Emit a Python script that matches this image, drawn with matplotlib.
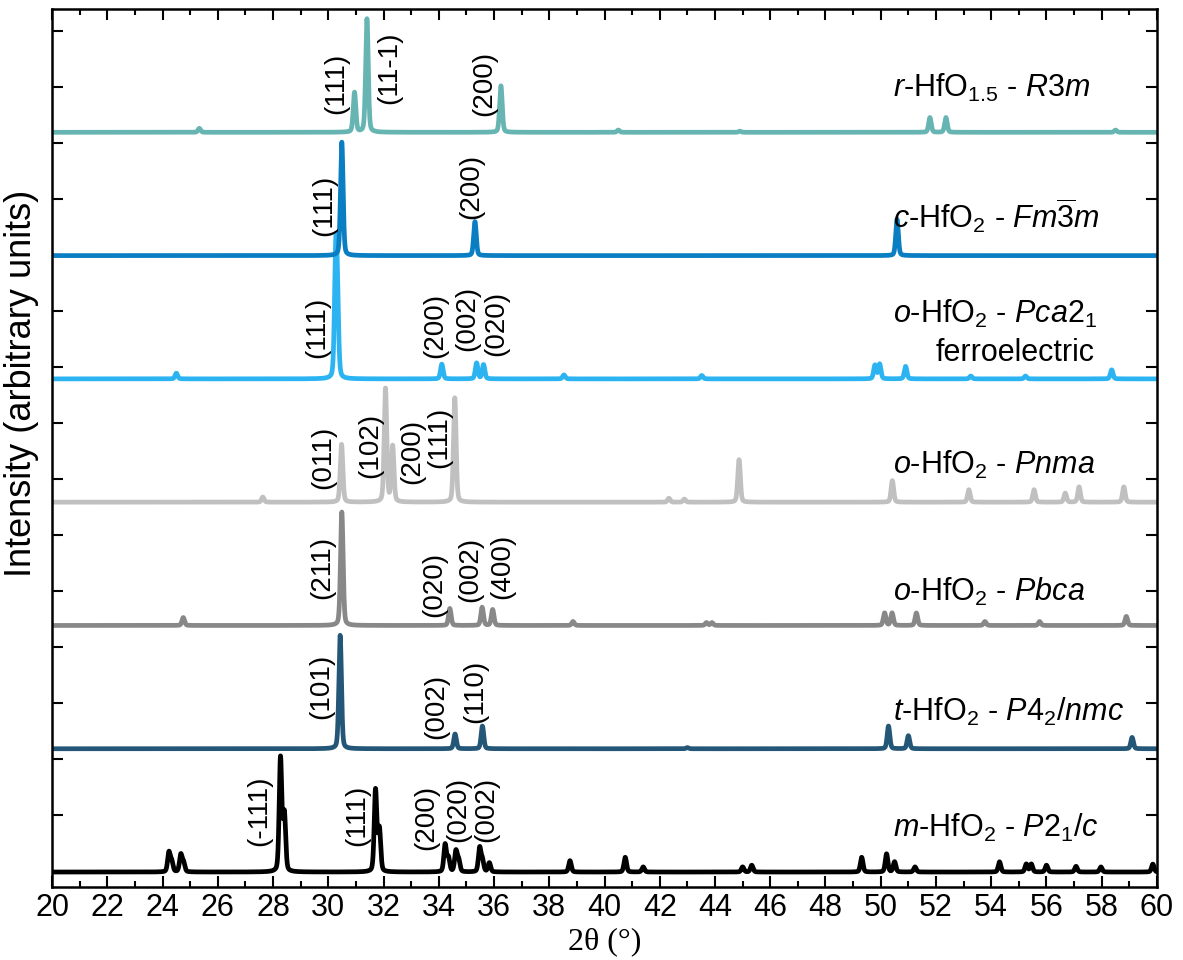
import numpy as np
import matplotlib
matplotlib.use('Agg')
import matplotlib.pyplot as plt
from matplotlib.ticker import MultipleLocator

plt.rcParams['font.family'] = ['Liberation Sans', 'DejaVu Sans']
plt.rcParams['mathtext.fontset'] = 'custom'
plt.rcParams['mathtext.rm'] = 'Liberation Sans'
plt.rcParams['mathtext.it'] = 'Liberation Sans:italic'
plt.rcParams['mathtext.bf'] = 'Liberation Sans:bold'

########## reflection lists (2theta in deg, relative intensity) ##########
m_pos = [24.23, 24.33, 24.66, 24.76, 28.27, 28.41, 31.71, 31.85, 34.23, 34.35, 34.62, 34.72,
         35.48, 35.58, 35.83, 38.75, 40.75, 41.40, 45.00, 45.33, 49.31, 50.21, 50.50,
         51.24, 54.30, 55.27, 55.45, 56.00, 57.07, 57.97, 59.85]
m_int = [17, 9, 15, 8, 100, 50, 72, 37, 24, 12, 18, 10,
         21, 10, 8, 10, 13, 4.5, 4.5, 6, 13, 16, 9,
         4.5, 9, 7, 7, 6, 5, 4.5, 7]

t_pos = [30.43, 34.59, 35.58, 43.0, 50.28, 51.0, 59.10]
t_int = [100, 13, 20, 1, 20, 11.5, 10]

pbca_pos = [24.75, 30.49, 34.40, 35.57, 35.95, 38.86, 43.69, 43.89, 50.14, 50.41, 51.29,
            53.77, 55.75, 58.89]
pbca_int = [7, 100, 15, 16, 14, 3.5, 2.5, 2.5, 11, 11, 11, 3.5, 3.5, 8]

pnma_pos = [27.63, 30.48, 32.07, 32.33, 34.58, 42.33, 42.89, 44.87, 50.42, 53.19, 55.55,
            56.68, 57.18, 58.80]
pnma_int = [4.5, 51, 100, 49, 92, 3.5, 2.7, 37.5, 19, 11, 11, 8, 13.5, 13.5]

pca_pos = [24.50, 30.27, 30.33, 34.11, 35.37, 35.62, 38.53, 43.52, 49.79, 49.96, 50.90,
           53.26, 55.24, 58.36]
pca_int = [5, 100, 54, 13, 14, 12.5, 3.5, 3, 12, 13, 11, 2.5, 2.5, 8]

c_pos = [30.49, 35.31, 50.59]
c_int = [100, 30, 32]

r_pos = [25.33, 30.95, 31.40, 36.25, 40.50, 44.90, 51.78, 52.36, 58.50]
r_int = [3.5, 35, 100, 41, 2, 1, 13, 13, 2]

# bottom to top
phases = [
    (r'$\mathit{m}$-HfO$_2$ - $\mathit{P2_1/c}$', m_pos, m_int, 'black'),
    (r'$\mathit{t}$-HfO$_2$ - $\mathit{P4_2/nmc}$', t_pos, t_int, '#245677'),
    (r'$\mathit{o}$-HfO$_2$ - $\mathit{Pbca}$', pbca_pos, pbca_int, '#888888'),
    (r'$\mathit{o}$-HfO$_2$ - $\mathit{Pnma}$', pnma_pos, pnma_int, '#c0c0c0'),
    (r'$\mathit{o}$-HfO$_2$ - $\mathit{Pca2_1}$', pca_pos, pca_int, '#2cb4f2'),
    (r'$\mathit{c}$-HfO$_2$ - $\mathit{Fm\overline{3}m}$', c_pos, c_int, '#0a7ec2'),
    (r'$\mathit{r}$-HfO$_{1.5}$ - $\mathit{R3m}$', r_pos, r_int, '#67b5b3'),
]
name_y = [0.284, 0.227, 0.203, 0.227, 0.454, 0.227, 0.29]

# (hkl, label x, label bottom above baseline)
hkl = [
    [('(-111)', 27.49, 0.211), ('(111)', 31.04, 0.211), ('(200)', 33.54, 0.178),
     ('(020)', 34.70, 0.243), ('(002)', 35.71, 0.243)],
    [('(101)', 29.74, 0.243), ('(002)', 33.90, 0.081), ('(110)', 35.31, 0.211)],
    [('(211)', 29.77, 0.211), ('(020)', 33.83, 0.065), ('(002)', 35.13, 0.187),
     ('(400)', 36.29, 0.211)],
    [('(011)', 29.81, 0.105), ('(102)', 31.51, 0.195), ('(200)', 33.03, 0.146),
     ('(111)', 34.01, 0.276)],
    [('(111)', 29.59, 0.17), ('(200)', 33.86, 0.17), ('(002)', 35.02, 0.227),
     ('(020)', 36.07, 0.187)],
    [('(111)', 29.85, 0.16), ('(200)', 35.17, 0.30)],
    [('(111)', 30.28, 0.15), ('(11-1)', 32.20, 0.23), ('(200)', 35.64, 0.135)],
]

def pv(x, c, h, w=0.11, eta=0.3):
    g = np.exp(-4*np.log(2)*(x-c)**2/w**2)
    l = 1/(1+4*(x-c)**2/w**2)
    return h*(eta*l+(1-eta)*g)

tt = np.linspace(20, 60, 8001)
scale = 0.92/100

fig = plt.figure(figsize=(11.83, 9.6), dpi=100)
ax = fig.add_axes([0.044, 0.076, 0.934, 0.9146])

for k, (name, pos, inten, col) in enumerate(phases):
    y = np.zeros_like(tt)
    for c, h in zip(pos, inten):
        y += pv(tt, c, h*scale)
    ax.plot(tt, y+k, color=col, lw=3.4, solid_joinstyle='round')
    ax.text(50.44, k+name_y[k], name, fontsize=22, ha='left', va='baseline')
    for lab, xl, yl in hkl[k]:
        ax.text(xl, k+yl, lab, fontsize=20, rotation=90, ha='center', va='bottom')
ax.text(54.86, 4+0.146, 'ferroelectric', fontsize=22, ha='center', va='baseline')

ax.set_xlim(20, 60)
ax.set_ylim(-0.1217, 7.0)
ax.xaxis.set_major_locator(MultipleLocator(2))
ax.xaxis.set_minor_locator(MultipleLocator(1))
ax.set_yticks(np.arange(0.462, 7.0, 0.4542))
ax.set_yticklabels([])
ax.tick_params(which='both', direction='in', top=True, right=True, width=1.5)
ax.tick_params(which='major', length=8, labelsize=22, pad=4)
ax.tick_params(which='minor', length=4)
for s in ax.spines.values():
    s.set_linewidth(1.8)

ax.set_xlabel('2θ (°)', fontsize=23, family='Liberation Serif', labelpad=3)
ax.set_ylabel('Intensity (arbitrary units)', fontsize=26)
ax.yaxis.set_label_coords(-0.012, 0.574)

fig.savefig('out.png', dpi=100)
